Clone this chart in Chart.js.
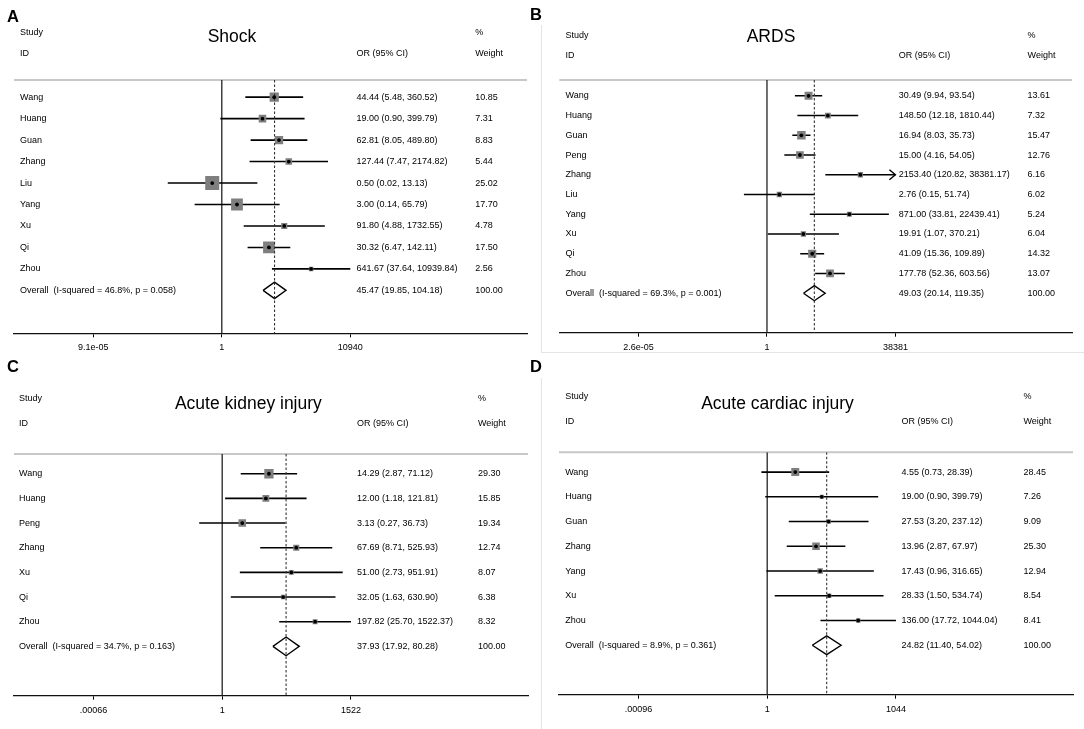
<!DOCTYPE html>
<html>
<head>
<meta charset="utf-8">
<title>Forest plots</title>
<script src="https://cdn.jsdelivr.net/npm/chart.js@4.4.1/dist/chart.umd.min.js"></script>
<style>
body{margin:0;background:#fff;width:1084px;height:729px;position:relative;overflow:hidden;font-family:'Liberation Sans',Arial,sans-serif;color:#000}
canvas{position:absolute}
.t{position:absolute;white-space:nowrap;line-height:1}
.lt{font-size:16.5px;font-weight:bold}
.ti{font-size:17.5px;text-align:center;width:300px}
.hd{font-size:9px}
.ln{position:absolute;background:#e4e4e4}
</style>
</head>
<body>
<div class="ln" style="left:541px;top:25px;width:1px;height:328px"></div>
<div class="ln" style="left:541px;top:352px;width:543px;height:1px"></div>
<div class="ln" style="left:541px;top:378px;width:1px;height:351px"></div>
<script>
'use strict';
/* ── A: Shock ── */
var A_STUDY=['Wang','Huang','Guan','Zhang','Liu','Yang','Xu','Qi','Zhou'];
var A_OR=[44.44,19.00,62.81,127.44,0.50,3.00,91.80,30.32,641.67];
var A_LO=[5.48,0.90,8.05,7.47,0.02,0.14,4.88,6.47,37.64];
var A_HI=[360.52,399.79,489.80,2174.82,13.13,65.79,1732.55,142.11,10939.84];
var A_WT=[10.85,7.31,8.83,5.44,25.02,17.70,4.78,17.50,2.56];
var A_POOL=[45.47,19.85,104.18];
var A_HET=[46.8,0.058];
var A_TICKS=[9.1e-05,1,10940];
var A_TLBL=['9.1e-05','1','10940'];
var A_ARROW=[];

/* ── B: ARDS ── */
var B_STUDY=['Wang','Huang','Guan','Peng','Zhang','Liu','Yang','Xu','Qi','Zhou'];
var B_OR=[30.49,148.50,16.94,15.00,2153.40,2.76,871.00,19.91,41.09,177.78];
var B_LO=[9.94,12.18,8.03,4.16,120.82,0.15,33.81,1.07,15.36,52.36];
var B_HI=[93.54,1810.44,35.73,54.05,38381.17,51.74,22439.41,370.21,109.89,603.56];
var B_WT=[13.61,7.32,15.47,12.76,6.16,6.02,5.24,6.04,14.32,13.07];
var B_POOL=[49.03,20.14,119.35];
var B_HET=[69.3,0.001];
var B_TICKS=[2.6e-05,1,38381];
var B_TLBL=['2.6e-05','1','38381'];
var B_ARROW=[4];

/* ── C: Acute kidney injury ── */
var C_STUDY=['Wang','Huang','Peng','Zhang','Xu','Qi','Zhou'];
var C_OR=[14.29,12.00,3.13,67.69,51.00,32.05,197.82];
var C_LO=[2.87,1.18,0.27,8.71,2.73,1.63,25.70];
var C_HI=[71.12,121.81,36.73,525.93,951.91,630.90,1522.37];
var C_WT=[29.30,15.85,19.34,12.74,8.07,6.38,8.32];
var C_POOL=[37.93,17.92,80.28];
var C_HET=[34.7,0.163];
var C_TICKS=[0.00066,1,1522];
var C_TLBL=['.00066','1','1522'];
var C_ARROW=[];

/* ── D: Acute cardiac injury ── */
var D_STUDY=['Wang','Huang','Guan','Zhang','Yang','Xu','Zhou'];
var D_OR=[4.55,19.00,27.53,13.96,17.43,28.33,136.00];
var D_LO=[0.73,0.90,3.20,2.87,0.96,1.50,17.72];
var D_HI=[28.39,399.79,237.12,67.97,316.65,534.74,1044.04];
var D_WT=[28.45,7.26,9.09,25.30,12.94,8.54,8.41];
var D_POOL=[24.82,11.40,54.02];
var D_HET=[8.9,0.361];
var D_TICKS=[0.00096,1,1044];
var D_TLBL=['.00096','1','1044'];
var D_ARROW=[];

var FONT="'Liberation Sans', Arial, sans-serif";

var PANELS=[
  {letter:'A',title:'Shock',study:A_STUDY,or:A_OR,lo:A_LO,hi:A_HI,wt:A_WT,pool:A_POOL,het:A_HET,ticks:A_TICKS,tlbl:A_TLBL,arrow:A_ARROW,
   left:0,top:0,w:541,h:364,pad:{left:14,right:14,top:80,bottom:10.7},nameX:20,orX:356.4,wtX:475.2,box:2.8,
   titleX:232,titleY:37,studyY:32.7,idY:53.5,letX:7,letY:10},
  {letter:'B',title:'ARDS',study:B_STUDY,or:B_OR,lo:B_LO,hi:B_HI,wt:B_WT,pool:B_POOL,het:B_HET,ticks:B_TICKS,tlbl:B_TLBL,arrow:B_ARROW,
   left:541,top:0,w:543,h:364,pad:{left:18.3,right:12,top:80,bottom:11.3},nameX:565.5,orX:898.7,wtX:1027.6,box:2.15,
   titleX:771,titleY:36.7,studyY:35,idY:55.5,letX:530,letY:8.3},
  {letter:'C',title:'Acute kidney injury',study:C_STUDY,or:C_OR,lo:C_LO,hi:C_HI,wt:C_WT,pool:C_POOL,het:C_HET,ticks:C_TICKS,tlbl:C_TLBL,arrow:C_ARROW,
   left:0,top:364,w:541,h:365,pad:{left:14,right:13,top:90,bottom:13.3},nameX:19,orX:357,wtX:478,box:1.72,
   titleX:248.4,titleY:404,studyY:398.3,idY:423,letX:7,letY:360},
  {letter:'D',title:'Acute cardiac injury',study:D_STUDY,or:D_OR,lo:D_LO,hi:D_HI,wt:D_WT,pool:D_POOL,het:D_HET,ticks:D_TICKS,tlbl:D_TLBL,arrow:D_ARROW,
   left:541,top:364,w:543,h:365,pad:{left:18,right:11,top:88.3,bottom:14.3},nameX:565.2,orX:901.5,wtX:1023.5,box:1.5,
   titleX:777.5,titleY:404,studyY:396.7,idY:421.7,letX:530,letY:360}
];

function addText(cls,x,y,txt,size,capOffset){
  var d=document.createElement('div');
  d.className='t '+cls;
  d.style.left=x+'px';
  d.style.top=(y-capOffset*size)+'px';
  d.textContent=txt;
  document.body.appendChild(d);
}

function ciText(v,l,h){return v.toFixed(2)+' ('+l.toFixed(2)+', '+h.toFixed(2)+')';}

function forestPlugin(p){
  return {
    id:'forest'+p.letter,
    beforeDatasetsDraw:function(c){
      var ctx=c.ctx,a=c.chartArea;
      ctx.save();
      ctx.strokeStyle='#c8c8c8';ctx.lineWidth=2;
      ctx.beginPath();ctx.moveTo(a.left,a.top);ctx.lineTo(a.right,a.top);ctx.stroke();
      ctx.restore();
    },
    afterDatasetsDraw:function(c){
      var ctx=c.ctx,xs=c.scales.x,ys=c.scales.y;
      ctx.save();
      ctx.strokeStyle='#000';ctx.lineWidth=1.4;
      for(var k=0;k<p.arrow.length;k++){
        var px=xs.getPixelForValue(p.ticks[2]),py=ys.getPixelForValue(p.arrow[k]);
        ctx.beginPath();ctx.moveTo(px-6,py-5);ctx.lineTo(px,py);ctx.lineTo(px-6,py+5);ctx.stroke();
      }
      ctx.restore();
    },
    afterDraw:function(c){
      var ctx=c.ctx,ys=c.scales.y,n=p.study.length;
      ctx.save();
      ctx.font='9px '+FONT;ctx.fillStyle='#000';ctx.textBaseline='middle';ctx.textAlign='left';
      for(var i=0;i<n;i++){
        var y=ys.getPixelForValue(i);
        ctx.fillText(p.study[i],p.nameX-p.left,y);
        ctx.fillText(ciText(p.or[i],p.lo[i],p.hi[i]),p.orX-p.left,y);
        ctx.fillText(p.wt[i].toFixed(2),p.wtX-p.left,y);
      }
      var yo=ys.getPixelForValue(n);
      ctx.fillText('Overall  (I-squared = '+p.het[0].toFixed(1)+'%, p = '+p.het[1].toFixed(3)+')',p.nameX-p.left,yo);
      ctx.fillText(ciText(p.pool[0],p.pool[1],p.pool[2]),p.orX-p.left,yo);
      ctx.fillText('100.00',p.wtX-p.left,yo);
      ctx.restore();
    }
  };
}

function makePanel(p){
  var n=p.study.length,ymin=-0.8,ymax=n+2;
  var tmax=Math.log10(p.ticks[2]);
  var ci=[],pts=[],rad=[];
  for(var i=0;i<n;i++){
    var hi=p.arrow.indexOf(i)>=0?p.ticks[2]:p.hi[i];
    ci.push({x:p.lo[i],y:i},{x:hi,y:i},{x:hi,y:null});
    pts.push({x:p.or[i],y:i});
    rad.push(p.box*Math.sqrt(p.wt[i])/Math.SQRT2);
  }
  var dia=[{x:p.pool[1],y:n},{x:p.pool[0],y:n-0.38},{x:p.pool[2],y:n},{x:p.pool[0],y:n+0.38},{x:p.pool[1],y:n}];
  var nul=[{x:1,y:ymin},{x:1,y:ymax}];
  var dash=[{x:p.pool[0],y:ymin},{x:p.pool[0],y:ymax}];

  var cv=document.createElement('canvas');
  cv.width=p.w;cv.height=p.h;
  cv.style.left=p.left+'px';cv.style.top=p.top+'px';
  cv.style.width=p.w+'px';cv.style.height=p.h+'px';
  document.body.appendChild(cv);

  new Chart(cv,{
    type:'scatter',
    data:{datasets:[
      {label:'OR',data:pts,pointStyle:'circle',pointRadius:1.9,backgroundColor:'#000',borderWidth:0,order:0},
      {label:'Pooled',data:dash,showLine:true,borderColor:'#333',borderWidth:1.1,borderDash:[2.5,2],pointRadius:0,order:1},
      {label:'Weight',data:pts,pointStyle:'rect',pointRadius:rad,backgroundColor:'#7f7f7f',borderWidth:0,order:2},
      {label:'Overall',data:dia,showLine:true,borderColor:'#000',borderWidth:1.4,pointRadius:0,fill:false,order:2},
      {label:'95% CI',data:ci,showLine:true,spanGaps:false,borderColor:'#000',borderWidth:1.6,pointRadius:0,order:3},
      {label:'No effect',data:nul,showLine:true,borderColor:'#222',borderWidth:1.3,pointRadius:0,order:4}
    ]},
    options:{
      responsive:false,animation:false,
      layout:{padding:p.pad},
      plugins:{legend:{display:false},tooltip:{enabled:false}},
      scales:{
        x:{type:'logarithmic',
           min:Math.pow(10,-1.617*tmax),max:Math.pow(10,2.375*tmax),
           afterBuildTicks:function(s){s.ticks=p.ticks.map(function(v){return {value:v};});},
           afterFit:function(s){s.height=20;},
           ticks:{autoSkip:false,maxRotation:0,padding:5,color:'#000',font:{size:9,family:FONT},
                  callback:function(v,i){return p.tlbl[i];}},
           grid:{display:true,drawOnChartArea:false,drawTicks:true,tickLength:4,color:'#000',lineWidth:1},
           border:{display:true,color:'#111',width:1.3}},
        y:{type:'linear',reverse:true,min:ymin,max:ymax,display:false}
      }
    },
    plugins:[forestPlugin(p)]
  });

  addText('lt',p.letX,p.letY,p.letter,16.5,0.13);
  var td=document.createElement('div');
  td.className='t ti';td.style.left=(p.titleX-150)+'px';td.style.top=(p.titleY-0.49*17.5)+'px';
  td.textContent=p.title;document.body.appendChild(td);
  addText('hd',p.nameX,p.studyY,'Study',9,0.49);
  addText('hd',p.nameX,p.idY,'ID',9,0.49);
  addText('hd',p.orX,p.idY,'OR (95% CI)',9,0.49);
  addText('hd',p.wtX,p.studyY,'%',9,0.49);
  addText('hd',p.wtX,p.idY,'Weight',9,0.49);
}

PANELS.forEach(makePanel);
</script>
</body>
</html>
